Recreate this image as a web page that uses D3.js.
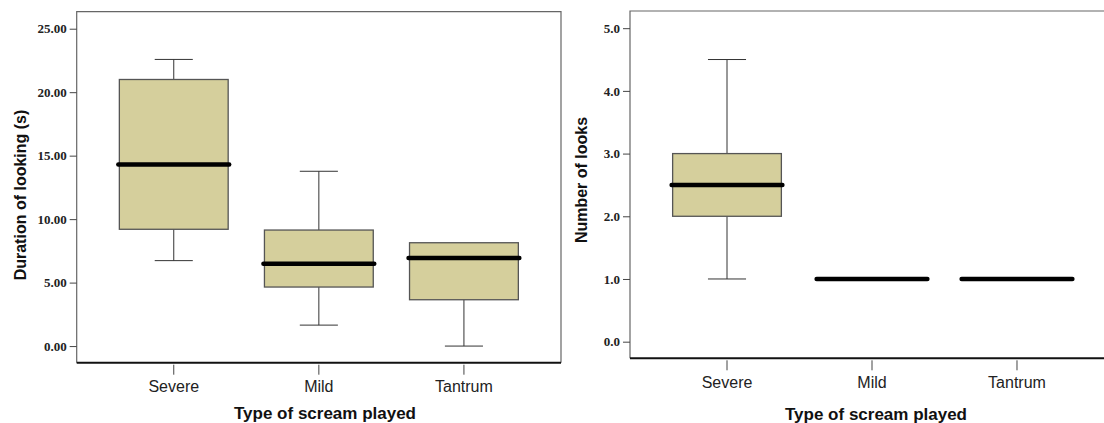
<!DOCTYPE html>
<html><head><meta charset="utf-8">
<script src="https://cdn.jsdelivr.net/npm/d3@7"></script>
<style>body{margin:0;background:#fff;overflow:hidden}svg{display:block}</style>
</head><body>
<svg id="c" width="1104" height="423"></svg>
<script>
const categories = ["Severe", "Mild", "Tantrum"];
// [min, q1, median, q3, max]
const durationStats = [
  [6.73, 9.2, 14.3, 21.0, 22.58],
  [1.65, 4.65, 6.49, 9.14, 13.77],
  [0.0, 3.65, 6.93, 8.14, 8.14]
];
const looksStats = [
  [1.0, 2.0, 2.5, 3.0, 4.5],
  [1.0, 1.0, 1.0, 1.0, 1.0],
  [1.0, 1.0, 1.0, 1.0, 1.0]
];
const durationTicks = [0, 5, 10, 15, 20, 25];
const looksTicks = [0, 1, 2, 3, 4, 5];

const svg = d3.select("#c");
const fill = "#d5cf9c";

function panel(o) {
  const g = svg.append("g");
  const x = d3.scaleBand().domain(categories).range([o.left, o.right])
    .paddingInner(0.25).paddingOuter(0.294);
  const y = d3.scaleLinear().domain(o.domain).range([o.bottom, o.top]);
  g.append("path")
    .attr("d", `M${o.left},${o.bottom}V${o.top}H${o.right}V${o.bottom}`)
    .attr("fill", "none").attr("stroke", "#666").attr("stroke-width", 1.2);
  const ya = g.append("g").attr("transform", `translate(${o.left},0)`)
    .call(d3.axisLeft(y).tickValues(o.ticks).tickSize(7).tickPadding(3)
      .tickFormat(d3.format(o.fmt)));
  ya.select(".domain").remove();
  ya.selectAll("line").attr("stroke", "#444");
  ya.selectAll("text").attr("font-family", "'Liberation Serif', 'DejaVu Serif', serif")
    .attr("font-weight", "bold").attr("font-size", 13).attr("fill", "#222");
  const xa = g.append("g").attr("transform", `translate(0,${o.bottom})`)
    .call(d3.axisBottom(x).tickSize(12).tickPadding(6));
  xa.select(".domain").attr("d", `M${o.left},0H${o.right}`).attr("stroke", "#111").attr("stroke-width", 2);
  xa.selectAll(".tick line").attr("stroke", "#444").attr("y1", 2);
  xa.selectAll(".tick text").attr("font-family", "'Liberation Sans', Arial, sans-serif")
    .attr("font-size", 16).attr("fill", "#222");
  const bw = x.bandwidth();
  o.stats.forEach((s, i) => {
    const cx = x(categories[i]) + bw / 2;
    const [mn, q1, md, q3, mx] = s;
    const cap = bw * 0.35;
    if (q3 > q1) {
      if (mx > q3) {
        g.append("line").attr("x1", cx).attr("x2", cx).attr("y1", y(q3)).attr("y2", y(mx)).attr("stroke", "#333");
        g.append("line").attr("x1", cx - cap / 2).attr("x2", cx + cap / 2).attr("y1", y(mx)).attr("y2", y(mx)).attr("stroke", "#333");
      }
      if (mn < q1) {
        g.append("line").attr("x1", cx).attr("x2", cx).attr("y1", y(q1)).attr("y2", y(mn)).attr("stroke", "#333");
        g.append("line").attr("x1", cx - cap / 2).attr("x2", cx + cap / 2).attr("y1", y(mn)).attr("y2", y(mn)).attr("stroke", "#333");
      }
      g.append("rect").attr("x", x(categories[i])).attr("width", bw)
        .attr("y", y(q3)).attr("height", y(q1) - y(q3))
        .attr("fill", fill).attr("stroke", "#555").attr("stroke-width", 1.3);
    }
    g.append("line").attr("x1", x(categories[i]) - 1).attr("x2", x(categories[i]) + bw + 1)
      .attr("y1", y(md)).attr("y2", y(md))
      .attr("stroke", "#000").attr("stroke-width", 4.5).attr("stroke-linecap", "round");
  });
  g.append("text").attr("x", o.xTitleX).attr("y", o.xTitleY).attr("text-anchor", "middle")
    .attr("font-family", "'Liberation Sans', Arial, sans-serif").attr("font-weight", "bold")
    .attr("font-size", 17).attr("fill", "#111").attr("dominant-baseline", "central").text("Type of scream played");
  g.append("text").attr("transform", `translate(${o.yTitleX},${o.yTitleY}) rotate(-90)`)
    .attr("text-anchor", "middle").attr("dominant-baseline", "central")
    .attr("font-family", "'Liberation Sans', Arial, sans-serif").attr("font-weight", "bold")
    .attr("font-size", 16).attr("fill", "#111").text(o.yTitle);
}

panel({left: 76.7, right: 561, top: 11.7, bottom: 362.7, domain: [-1.31, 26.34],
  ticks: durationTicks, fmt: ".2f", stats: durationStats,
  xTitleX: 325, xTitleY: 413, yTitleX: 20, yTitleY: 195, yTitle: "Duration of looking (s)"});
panel({left: 630, right: 1114, top: 11, bottom: 358.3, domain: [-0.265, 5.274],
  ticks: looksTicks, fmt: ".1f", stats: looksStats,
  xTitleX: 876, xTitleY: 414, yTitleX: 581, yTitleY: 180, yTitle: "Number of looks"});
</script>
</body></html>
